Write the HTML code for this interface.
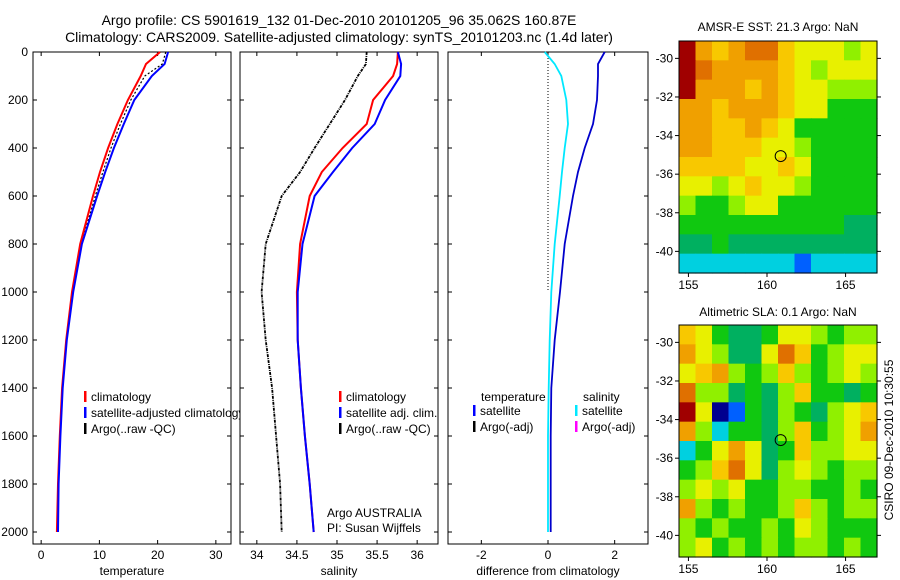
<!DOCTYPE html>
<html><head><meta charset="utf-8"><style>
body{margin:0;background:#fff;}
svg{display:block;font-family:"Liberation Sans",sans-serif;}
</style></head><body>
<svg id="c" width="900" height="580" viewBox="0 0 900 580">
<text x="339" y="25" font-size="14" text-anchor="middle">Argo profile: CS 5901619_132 01-Dec-2010 20101205_96 35.062S 160.87E</text>
<text x="339" y="42" font-size="14" text-anchor="middle">Climatology: CARS2009. Satellite-adjusted climatology: synTS_20101203.nc (1.4d later)</text>
<text x="778" y="31" font-size="12" text-anchor="middle">AMSR-E SST: 21.3 Argo: NaN</text>
<text x="778" y="316" font-size="12" text-anchor="middle">Altimetric SLA: 0.1 Argo: NaN</text>
<text transform="translate(893,440) rotate(-90)" font-size="12" text-anchor="middle">CSIRO 09-Dec-2010 10:30:55</text>
</svg>
<script>
// depth levels (dbar)
const depths = [0,50,100,200,300,400,500,600,800,1000,1200,1400,1600,1800,2000];
const tempClim = [20.4,18.0,17.1,14.9,13.1,11.5,10.1,8.9,6.7,5.3,4.3,3.6,3.2,2.9,2.7];
const tempSat  = [21.8,21.2,19.0,16.0,14.2,12.5,11.0,9.6,7.0,5.5,4.4,3.7,3.3,3.0,2.9];
const tempArgo = [21.4,20.8,17.8,15.4,13.6,12.0,10.6,9.3,6.9,5.4,4.4,3.7,3.3,3.0,2.8];
const salClim = [35.76,35.75,35.70,35.45,35.37,35.07,34.81,34.66,34.54,34.50,34.51,34.55,34.60,34.66,34.71];
const salSat  = [35.76,35.80,35.79,35.60,35.47,35.19,34.95,34.72,34.57,34.51,34.51,34.55,34.60,34.66,34.71];
const salArgo = [35.37,35.36,35.26,35.10,34.91,34.72,34.54,34.31,34.11,34.06,34.11,34.19,34.24,34.29,34.31];
const diffTemp = [1.7,1.5,1.5,1.47,1.35,1.1,0.9,0.75,0.5,0.36,0.2,0.1,0.08,0.08,0.08];
const diffSal  = [-0.1,0.2,0.4,0.55,0.6,0.5,0.42,0.35,0.2,0.1,0.05,0.02,0.0,0.0,0.0];
const depthTicks = [0,200,400,600,800,1000,1200,1400,1600,1800,2000];
const tempTicks = [0,10,20,30];
const salTicks = [34,34.5,35,35.5,36];
const diffTicks = [-2,0,2];
const lonTicks = [155,160,165];
const latTicks = [-30,-32,-34,-36,-38,-40];
// map grids: rows lat -29..-41, cols lon 154.4..167 (colour index 0..11)
const sstGrid = [
[11,8,7,8,9,9,7,6,6,6,5,6],
[11,9,8,8,8,8,7,6,5,6,6,6],
[11,8,8,8,7,8,7,6,6,5,5,5],
[8,8,7,8,8,8,7,6,6,4,4,4],
[8,8,7,7,8,7,6,4,4,4,4,4],
[8,8,7,7,7,6,6,5,4,4,4,4],
[7,7,7,7,6,6,7,6,4,4,4,4],
[6,6,5,6,7,6,6,5,4,4,4,4],
[5,4,4,5,6,6,4,4,4,4,4,4],
[4,4,4,4,4,4,4,4,4,4,3,3],
[3,3,4,3,3,3,3,3,3,3,3,3],
[2,2,2,2,2,2,2,1,2,2,2,2]];
const slaGrid = [
[7,6,4,3,3,4,6,6,5,4,5,5],
[8,6,5,3,3,6,9,7,4,5,6,6],
[6,7,8,5,4,5,7,5,4,5,6,5],
[9,5,5,3,4,3,5,7,4,4,3,4],
[11,6,0,1,4,3,5,4,3,5,6,7],
[8,5,2,4,4,3,5,7,4,5,6,8],
[2,4,6,8,6,3,4,7,5,5,6,6],
[4,5,7,9,6,3,5,6,5,4,5,5],
[5,6,5,6,4,4,5,5,4,4,5,4],
[8,5,4,5,4,4,5,7,5,4,5,5],
[5,4,5,4,4,5,4,6,5,4,4,4],
[5,6,4,5,4,5,4,5,5,4,5,4]];
const palette = ["#00008f","#0060ff","#00d0e0","#00b060","#10c810","#90f000","#e8f000","#f8c800","#f0a000","#e07000","#c02000","#a00000"];

const svg = document.getElementById('c');
const NS = 'http://www.w3.org/2000/svg';
function mk(tag, at, parent){const e=document.createElementNS(NS,tag);for(const k in at)e.setAttribute(k,at[k]);(parent||svg).appendChild(e);return e;}
function txt(x,y,s,anchor,size){const t=mk('text',{x:x,y:y,'font-size':size||12,'text-anchor':anchor||'middle'});t.textContent=s;return t;}

const Y0=52, PXD=0.24, YB=544;
const yS = d => Y0 + d*PXD;

function panel(name,x0,x1,vmin,vmax,ticks,label,showY){
  const xS = v => x0 + (v-vmin)/(vmax-vmin)*(x1-x0);
  const r=mk('rect',{x:x0,y:Y0,width:x1-x0,height:YB-Y0,fill:'#fff',stroke:'#000','stroke-width':1});
  
  
  ticks.forEach(v=>{
    const x=xS(v);
    mk('line',{x1:x,y1:YB,x2:x,y2:YB-4,stroke:'#000'});
    mk('line',{x1:x,y1:Y0,x2:x,y2:Y0+4,stroke:'#000'});
    const t=txt(x,YB+15,String(v));
    
    
  });
  depthTicks.forEach(d=>{
    const y=yS(d);
    mk('line',{x1:x0,y1:y,x2:x0+4,y2:y,stroke:'#000'});
    mk('line',{x1:x1,y1:y,x2:x1-4,y2:y,stroke:'#000'});
    if(showY){const t=txt(x0-5,y+4,String(d),'end');
      
      }
  });
  const l=txt((x0+x1)/2,YB+31,label);
  
  
  return xS;
}
function line(xS,vals,color,w,dash,name){
  const pts=depths.map((d,i)=>xS(vals[i]).toFixed(1)+','+yS(d).toFixed(1)).join(' ');
  const p=mk('polyline',{points:pts,fill:'none',stroke:color,'stroke-width':w});
  if(dash)p.setAttribute('stroke-dasharray',dash);
  
  
}
function legend(x,y,color,label,name){
  mk('rect',{x:x,y:y-10,width:2.5,height:11,fill:color});
  const t=txt(x+7,y,label,'start');
  
  
}

// Temperature panel
const xT=panel('temperature',33,231,-1.4,32.6,tempTicks,'temperature',true);
line(xT,tempArgo,'#000',1.2,'2,2','temp-argo-line');
line(xT,tempClim,'#f00',2,null,'temp-climatology-line');
line(xT,tempSat,'#00f',2,null,'temp-satellite-line');
legend(84,401,'#f00','climatology','legend-climatology');
legend(84,417,'#00f','satellite-adjusted climatology','legend-satellite');
legend(84,433,'#000','Argo(..raw -QC)','legend-argo');

// Salinity panel
const xSal=panel('salinity',240,438,33.79,36.26,salTicks,'salinity',false);
line(xSal,salArgo,'#000',1.8,'3,1,1,1','sal-argo-line');
line(xSal,salClim,'#f00',2,null,'sal-climatology-line');
line(xSal,salSat,'#00f',2,null,'sal-satellite-line');
legend(339,401,'#f00','climatology','legend-sal-climatology');
legend(339,417,'#00f','satellite adj. clim.','legend-sal-satellite');
legend(339,433,'#000','Argo(..raw -QC)','legend-sal-argo');
let t=txt(327,517,'Argo AUSTRALIA','start');


t=txt(327,532,'PI: Susan Wijffels','start');



// Difference panel
const xD=panel('difference',448,648,-3,3,diffTicks,'difference from climatology',false);
mk('line',{x1:xD(0),y1:Y0,x2:xD(0),y2:292,stroke:'#000','stroke-dasharray':'1,2'});
line(xD,diffSal,'#00e8ff',1.8,null,'diff-salinity-line');
line(xD,diffTemp,'#00c',1.8,null,'diff-temperature-line');
t=txt(481,401,'temperature','start');


t=txt(583,401,'salinity','start');


legend(473,415,'#00f','satellite','legend-diff-temp-satellite');
legend(473,431,'#000','Argo(-adj)','legend-diff-temp-argo');
legend(575,415,'#00e8ff','satellite','legend-diff-sal-satellite');
legend(575,431,'#f0f','Argo(-adj)','legend-diff-sal-argo');

// Maps
function map(name,grid,top,bottom,latTop){
  const x0=679,x1=877,lonMin=154.4,lonMax=167;
  const pxLat=19.3;
  const xM=v=>x0+(v-lonMin)/(lonMax-lonMin)*(x1-x0);
  const yM=v=>top+(latTop-v)*pxLat;
  const rows=grid.length, cols=grid[0].length;
  const cw=(x1-x0)/cols, ch=(bottom-top)/rows;
  grid.forEach((row,r)=>row.forEach((v,c)=>{
    const cell=mk('rect',{x:(x0+c*cw).toFixed(2),y:(top+r*ch).toFixed(2),width:(cw+0.6).toFixed(2),height:(ch+0.6).toFixed(2),fill:palette[v]});
    
    
  }));
  const b=mk('rect',{x:x0,y:top,width:x1-x0,height:bottom-top,fill:'none',stroke:'#000'});
  
  
  lonTicks.forEach(v=>{const x=xM(v);
    mk('line',{x1:x,y1:bottom,x2:x,y2:bottom+4,stroke:'#000'});
    const l=txt(x,bottom+16,String(v));
    
    });
  latTicks.forEach(v=>{const y=yM(v);
    mk('line',{x1:x0,y1:y,x2:x0-4,y2:y,stroke:'#000'});
    mk('line',{x1:x1,y1:y,x2:x1+4,y2:y,stroke:'#000'});
    const l=txt(x0-6,y+4,String(v),'end');
    
    });
  const c=mk('circle',{cx:xM(160.87),cy:yM(-35.062),r:5.5,fill:'none',stroke:'#000'});
  
  
}
map('sst-map',sstGrid,41,273,-29.1);
map('sla-map',slaGrid,325,557,-29.1);
</script>
</body></html>
